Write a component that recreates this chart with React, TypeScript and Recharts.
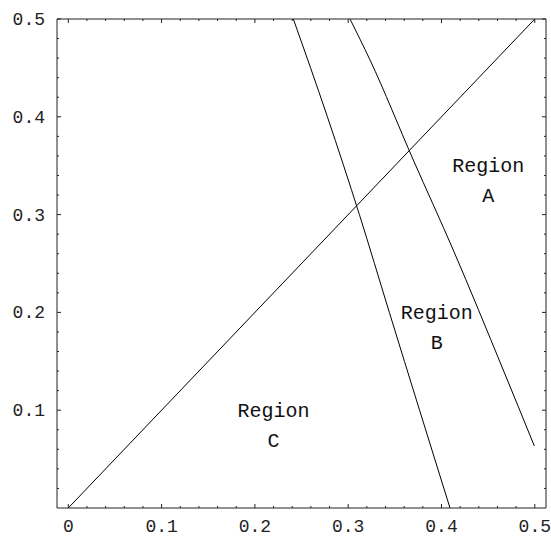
import React from 'react';
import { ComposedChart, Line, Scatter, XAxis, YAxis } from 'recharts';

// Diagonal boundary y = x
const diagonalLine = [
  { x: 0, y: 0 },
  { x: 0.5, y: 0.5 },
];

// Steep curve (left boundary of Region B)
const boundaryOne = [
  { x: 0.2412, y: 0.5 },
  { x: 0.2777, y: 0.4 },
  { x: 0.312, y: 0.3 },
  { x: 0.3441, y: 0.2 },
  { x: 0.3765, y: 0.1 },
  { x: 0.4091, y: 0 },
];

// Second curve (boundary between Region A and B)
const boundaryTwo = [
  { x: 0.3019, y: 0.5 },
  { x: 0.3234, y: 0.4581 },
  { x: 0.3698, y: 0.3558 },
  { x: 0.4126, y: 0.2638 },
  { x: 0.4662, y: 0.1411 },
  { x: 0.4995, y: 0.0634 },
];

const regionLabels = [
  { x: 0.45, y: 0.35, line1: 'Region', line2: 'A' },
  { x: 0.395, y: 0.2, line1: 'Region', line2: 'B' },
  { x: 0.22, y: 0.1, line1: 'Region', line2: 'C' },
];

const xMajorTicks = [0, 0.1, 0.2, 0.3, 0.4, 0.5];
const yMajorTicks = [0.1, 0.2, 0.3, 0.4, 0.5];
const xAllTicks = [
  0, 0.02, 0.04, 0.06, 0.08, 0.1, 0.12, 0.14, 0.16, 0.18, 0.2, 0.22, 0.24,
  0.26, 0.28, 0.3, 0.32, 0.34, 0.36, 0.38, 0.4, 0.42, 0.44, 0.46, 0.48, 0.5,
];
const yAllTicks = [
  0.02, 0.04, 0.06, 0.08, 0.1, 0.12, 0.14, 0.16, 0.18, 0.2, 0.22, 0.24,
  0.26, 0.28, 0.3, 0.32, 0.34, 0.36, 0.38, 0.4, 0.42, 0.44, 0.46, 0.48, 0.5,
];

const FONT = '"Liberation Mono", "DejaVu Sans Mono", monospace';
const FRAME = '#222';

const isMajor = (v: number, majors: number[]) => majors.some((m) => Math.abs(m - v) < 1e-6);
const fmt = (v: number) => (Math.abs(v) < 1e-9 ? '0' : v.toFixed(1));

const BottomTick = (props: any) => {
  const { x, y, payload } = props;
  const v = payload.value;
  const major = isMajor(v, xMajorTicks);
  return (
    <g>
      <line x1={x} x2={x} y1={y} y2={y - (major ? 4 : 2)} stroke={FRAME} strokeWidth={1} />
      {major && (
        <text x={x} y={y + 23.5} textAnchor="middle" fontFamily={FONT} fontSize={18} fill="#222">
          {fmt(v)}
        </text>
      )}
    </g>
  );
};

const TopTick = (props: any) => {
  const { x, y, payload } = props;
  const major = isMajor(payload.value, xMajorTicks);
  return <line x1={x} x2={x} y1={y} y2={y + (major ? 4 : 2)} stroke={FRAME} strokeWidth={1} />;
};

const LeftTick = (props: any) => {
  const { x, y, payload } = props;
  const v = payload.value;
  const major = isMajor(v, yMajorTicks);
  return (
    <g>
      <line x1={x} x2={x + (major ? 4 : 2)} y1={y} y2={y} stroke={FRAME} strokeWidth={1} />
      {major && (
        <text x={x - 12} y={y + 6} textAnchor="end" fontFamily={FONT} fontSize={18} fill="#222">
          {fmt(v)}
        </text>
      )}
    </g>
  );
};

const RightTick = (props: any) => {
  const { x, y, payload } = props;
  const major = isMajor(payload.value, yMajorTicks);
  return <line x1={x} x2={x - (major ? 4 : 2)} y1={y} y2={y} stroke={FRAME} strokeWidth={1} />;
};

const RegionLabel = (props: any) => {
  const { cx, cy, payload } = props;
  if (cx == null || cy == null) return null;
  return (
    <g>
      <text x={cx} y={cy + 6.5} textAnchor="middle" fontFamily={FONT} fontSize={20} fill="#111">
        {payload.line1}
      </text>
      <text x={cx} y={cy + 36.5} textAnchor="middle" fontFamily={FONT} fontSize={20} fill="#111">
        {payload.line2}
      </text>
    </g>
  );
};

export default function App() {
  return (
    <div style={{ position: 'absolute', left: 0, top: 0, background: '#fff' }}>
      <ComposedChart width={551} height={536} margin={{ top: 18, right: 0, bottom: 0, left: 0 }}>
        <XAxis
          xAxisId="bottom"
          dataKey="x"
          type="number"
          domain={[-0.0121, 0.512]}
          allowDataOverflow
          ticks={xAllTicks}
          interval={0}
          height={28}
          tickSize={0}
          tickMargin={0}
          tickLine={false}
          axisLine={{ stroke: FRAME, strokeWidth: 1 }}
          tick={<BottomTick />}
        />
        <XAxis
          xAxisId="top"
          orientation="top"
          dataKey="x"
          type="number"
          domain={[-0.0121, 0.512]}
          allowDataOverflow
          ticks={xAllTicks}
          interval={0}
          height={1}
          tickSize={0}
          tickMargin={0}
          tickLine={false}
          axisLine={{ stroke: FRAME, strokeWidth: 1 }}
          tick={<TopTick />}
        />
        <YAxis
          yAxisId="left"
          dataKey="y"
          type="number"
          domain={[0, 0.5]}
          allowDataOverflow
          ticks={yAllTicks}
          interval={0}
          width={57}
          tickSize={0}
          tickMargin={0}
          tickLine={false}
          axisLine={{ stroke: FRAME, strokeWidth: 1 }}
          tick={<LeftTick />}
        />
        <YAxis
          yAxisId="right"
          orientation="right"
          dataKey="y"
          type="number"
          domain={[0, 0.5]}
          allowDataOverflow
          ticks={yAllTicks}
          interval={0}
          width={5}
          tickSize={0}
          tickMargin={0}
          tickLine={false}
          axisLine={{ stroke: FRAME, strokeWidth: 1 }}
          tick={<RightTick />}
        />
        <Line
          xAxisId="bottom"
          yAxisId="left"
          data={diagonalLine}
          dataKey="y"
          type="linear"
          stroke="#000"
          strokeWidth={1}
          dot={false}
          activeDot={false}
          isAnimationActive={false}
        />
        <Line
          xAxisId="bottom"
          yAxisId="left"
          data={boundaryOne}
          dataKey="y"
          type="monotone"
          stroke="#000"
          strokeWidth={1}
          dot={false}
          activeDot={false}
          isAnimationActive={false}
        />
        <Line
          xAxisId="bottom"
          yAxisId="left"
          data={boundaryTwo}
          dataKey="y"
          type="monotone"
          stroke="#000"
          strokeWidth={1}
          dot={false}
          activeDot={false}
          isAnimationActive={false}
        />
        <Scatter
          xAxisId="bottom"
          yAxisId="left"
          data={regionLabels}
          dataKey="y"
          shape={<RegionLabel />}
          isAnimationActive={false}
        />
      </ComposedChart>
    </div>
  );
}
